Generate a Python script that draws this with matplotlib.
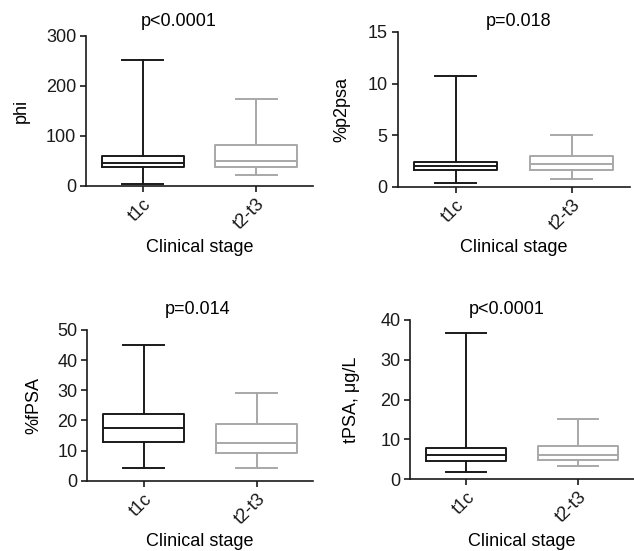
import matplotlib
matplotlib.use("Agg")
import matplotlib.pyplot as plt

plt.rcParams['font.family'] = ['Liberation Sans', 'DejaVu Sans']
FS = 13

categories = ["t1c", "t2-t3"]
xlabel = "Clinical stage"

# five-number summaries: [whislo, q1, med, q3, whishi]
phi_stats = [[5, 38.6, 47, 60, 252], [22, 38.6, 50.7, 82, 174.7]]
p2psa_stats = [[0.39, 1.62, 2.04, 2.36, 10.73], [0.72, 1.59, 2.17, 2.95, 4.98]]
fpsa_stats = [[4.3, 12.7, 17.5, 22.2, 45.1], [4.1, 9.3, 12.5, 18.8, 29.2]]
tpsa_stats = [[1.8, 4.5, 5.96, 7.7, 36.7], [3.27, 4.86, 6.04, 8.4, 15.0]]

ylabels = ["phi", "%p2psa", "%fPSA", "tPSA, μg/L"]
pvalues = ["p<0.0001", "p=0.018", "p=0.014", "p<0.0001"]
ylims = [(0, 300), (0, 15), (0, 50), (0, 40)]
yticks = [[0, 100, 200, 300], [0, 5, 10, 15], [0, 10, 20, 30, 40, 50], [0, 10, 20, 30, 40]]
all_stats = [phi_stats, p2psa_stats, fpsa_stats, tpsa_stats]

W, H = 634, 551
fig = plt.figure(figsize=(W / 100, H / 100), dpi=100)

# axes boxes in pixels: left, top, right, bottom
boxes = [(86, 36, 313, 186), (397.5, 32, 629.5, 186.7),
         (87.3, 330, 313, 480.7), (410.3, 320, 634, 479)]
title_pos = [(0.41, 14), (0.52, 10), (0.49, 20), (0.43, 10)]
ylabel_x = [30, 350, 42, 360]
xlabel_y = [248, 248, 541, 541]
colors = ["#1a1a1a", "#a8a8a8"]

for i in range(4):
    l, t, r, b = boxes[i]
    ax = fig.add_axes([l / W, 1 - b / H, (r - l) / W, (b - t) / H])
    bxp = []
    for j, s in enumerate(all_stats[i]):
        bxp.append(dict(whislo=s[0], q1=s[1], med=s[2], q3=s[3], whishi=s[4],
                        label=categories[j], fliers=[]))
    for j in range(2):
        c = colors[j]
        lw = 1.4
        ax.bxp([bxp[j]], positions=[j + 1], widths=0.72, showfliers=False,
               boxprops=dict(color=c, linewidth=lw),
               medianprops=dict(color=c, linewidth=lw),
               whiskerprops=dict(color=c, linewidth=lw),
               capprops=dict(color=c, linewidth=lw))
    ax.set_xlim(0.5, 2.5)
    ax.set_ylim(*ylims[i])
    ax.set_yticks(yticks[i])
    ax.set_xticks([1, 2])
    ax.set_xticklabels(categories, rotation=45, ha='right', rotation_mode='anchor')
    for sp in ['top', 'right']:
        ax.spines[sp].set_visible(False)
    for sp in ['left', 'bottom']:
        ax.spines[sp].set_linewidth(1.2)
        ax.spines[sp].set_color('#1a1a1a')
    ax.tick_params(direction='out', length=4, width=1.2, colors='#1a1a1a',
                   labelsize=FS, pad=3)
    ax.set_ylabel(ylabels[i], fontsize=FS)
    ax.yaxis.set_label_coords((ylabel_x[i] - l) / (r - l), 0.5)
    tx, dy = title_pos[i]
    ax.text(tx, 1 + dy / (b - t), pvalues[i], transform=ax.transAxes,
            ha='center', va='center', fontsize=FS)
    fig.text(((l + r) / 2) / W, 1 - xlabel_y[i] / H, xlabel, ha='center',
             va='center', fontsize=FS)

fig.savefig("out.png", dpi=100)
